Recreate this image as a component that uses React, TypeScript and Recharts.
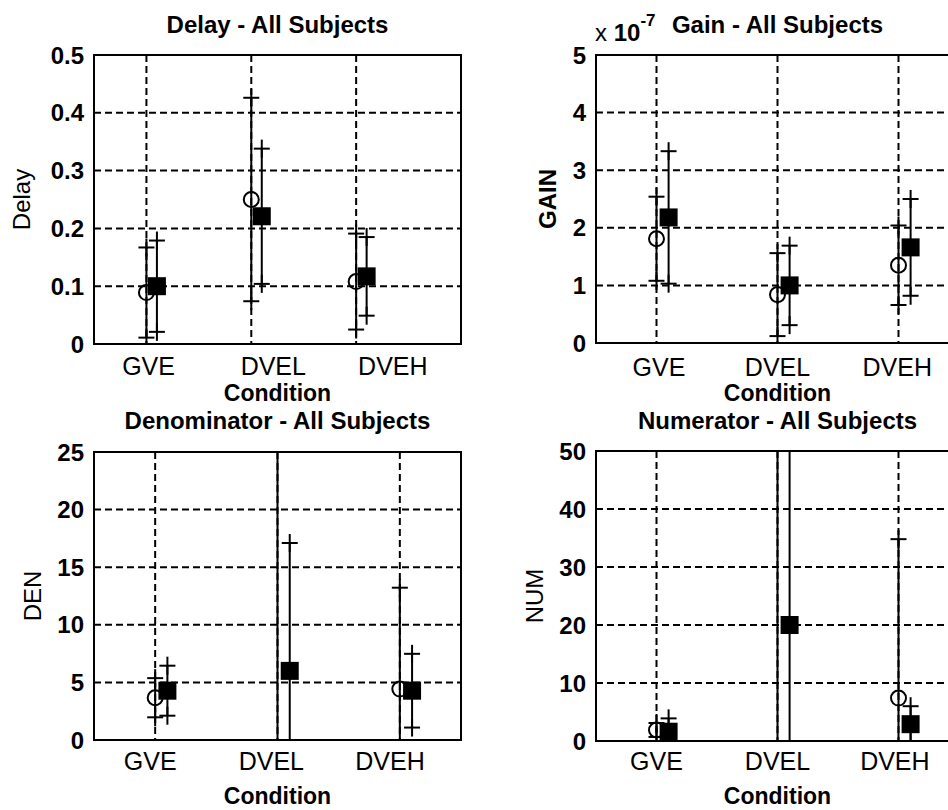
import React from 'react';
import { ScatterChart, Scatter, XAxis, YAxis, CartesianGrid, ReferenceArea, ReferenceLine, Label } from 'recharts';

const font = '"Liberation Sans", Arial, sans-serif';

const conditions = ['GVE', 'DVEL', 'DVEH'];
const circleX = [1, 2, 3];
const squareX = [1.1, 2.1, 3.1];

// Delay
const delayCircleMean = [0.089, 0.25, 0.108];
const delayCircleStd = [0.078, 0.176, 0.083];
const delaySquareMean = [0.1, 0.221, 0.117];
const delaySquareStd = [0.079, 0.117, 0.068];
const delayTicks = [0, 0.1, 0.2, 0.3, 0.4, 0.5];
const delayLabelX = [1.02, 2.21, 3.35];

// Gain (x 10^-7)
const gainCircleMean = [1.81, 0.84, 1.35];
const gainCircleStd = [0.73, 0.72, 0.69];
const gainSquareMean = [2.18, 1.0, 1.66];
const gainSquareStd = [1.15, 0.69, 0.84];
const gainTicks = [0, 1, 2, 3, 4, 5];
const gainLabelX = [1.02, 2.0, 2.99];

// Denominator
const denCircleMean = [3.67, 32, 4.42];
const denCircleStd = [1.7, 45, 8.8];
const denSquareMean = [4.28, 6.0, 4.28];
const denSquareStd = [2.17, 11.1, 3.2];
const denTicks = [0, 5, 10, 15, 20, 25];
const denLabelX = [0.96, 1.95, 2.92];

// Numerator
const numCircleMean = [1.9, 70, 7.4];
const numCircleStd = [1.2, 100, 27.4];
const numSquareMean = [1.6, 20, 2.9];
const numSquareStd = [2.3, 35, 3.1];
const numTicks = [0, 10, 20, 30, 40, 50];
const numLabelX = [1.0, 2.0, 2.97];

const points = (xs, mean) => xs.map((x, i) => ({ x, y: mean[i] }));
// one two-point series per error bar: mean - std up to mean + std
const errorBars = (xs, mean, std) =>
  xs.map((x, i) => [{ x, y: mean[i] - std[i] }, { x, y: mean[i] + std[i] }]);

const CircleMark = (p) => <circle cx={p.cx} cy={p.cy} r={7.5} fill="none" stroke="#000" strokeWidth={2} />;
const SquareMark = (p) => <rect x={p.cx - 9} y={p.cy - 9} width={18} height={18} fill="#000" />;
const CrossMark = (p) => (
  <g stroke="#000" strokeWidth={2}>
    <line x1={p.cx - 8} x2={p.cx + 8} y1={p.cy} y2={p.cy} />
    <line x1={p.cx} x2={p.cx} y1={p.cy - 9} y2={p.cy + 9} />
  </g>
);

const exponentLabel = ({ viewBox }) => (
  <text x={viewBox.x - 1} y={viewBox.y - 13} fontSize={24} fontFamily={font} fill="#000">
    x <tspan fontWeight="bold">10</tspan>
    <tspan dy={-15} fontSize={17} fontWeight="bold">-7</tspan>
  </text>
);

const yTitle = (text, baseX, bold) => ({ viewBox }) => {
  const x = viewBox.x + baseX;
  const cy = viewBox.y + viewBox.height / 2;
  return (
    <text
      x={x}
      y={cy}
      transform={`rotate(-90 ${x} ${cy})`}
      textAnchor="middle"
      fontSize={24}
      fontWeight={bold ? 'bold' : 'normal'}
      fontFamily={font}
      fill="#000"
    >
      {text}
    </text>
  );
};

const Panel = ({ left, top, width, height, margin, yAxisWidth, xAxisHeight, xDomain, yTicks, labelX,
  title, titleOffset, yLabel, yLabelX, yLabelBold, tickGap, conditionOffset, circle, square, exponent }) => {
  const yDomain = [yTicks[0], yTicks[yTicks.length - 1]];
  const bars = [
    ...errorBars(circleX, circle.mean, circle.std),
    ...errorBars(squareX, square.mean, square.std),
  ];
  return (
    <div style={{ position: 'absolute', left, top }}>
      <ScatterChart width={width} height={height} margin={{ ...margin, top: margin.top - 1 }}>
        <XAxis xAxisId="g" orientation="top" type="number" dataKey="x" domain={xDomain} ticks={circleX}
          allowDataOverflow height={1} tick={false} tickLine={false} axisLine={false}>
          <Label value={title} position="top" offset={titleOffset - 1} fontSize={24} fontWeight="bold" fontFamily={font} fill="#000" />
          {exponent && <Label content={exponentLabel} />}
        </XAxis>
        <XAxis xAxisId="l" type="number" dataKey="x" domain={xDomain} ticks={labelX} allowDataOverflow
          height={xAxisHeight} tickLine={false} axisLine={false} tickSize={6} tickMargin={tickGap}
          tickFormatter={(v, i) => conditions[i]} interval={0}
          tick={{ fill: '#000', fontSize: 25, fontFamily: font }}>
          <Label value="Condition" position="insideBottom" offset={conditionOffset} fontSize={23} fontWeight="bold" fontFamily={font} fill="#000" />
        </XAxis>
        <YAxis type="number" dataKey="y" domain={yDomain} ticks={yTicks} allowDataOverflow width={yAxisWidth}
          tickLine={false} axisLine={false} tickSize={6} tickMargin={4} interval={0}
          tick={{ fill: '#000', fontSize: 24, fontWeight: 'bold', fontFamily: font }}
          label={{ content: yTitle(yLabel, yLabelX, yLabelBold) }} />
        <CartesianGrid xAxisId="g" vertical={false} stroke="#000" strokeWidth={2} strokeDasharray="7 4" />
        {circleX.map((x) => (
          <ReferenceLine key={x} xAxisId="g" x={x} stroke="#000" strokeWidth={2} strokeDasharray="7 4" />
        ))}
        <ReferenceArea xAxisId="g" x1={xDomain[0]} x2={xDomain[1]} y1={yDomain[0]} y2={yDomain[1]}
          fill="none" stroke="#000" strokeWidth={2} ifOverflow="visible" />
        {bars.map((bar, i) => (
          <Scatter key={i} xAxisId="g" data={bar} shape={CrossMark} isAnimationActive={false}
            line={{ stroke: '#000', strokeWidth: 2 }} />
        ))}
        <Scatter xAxisId="g" data={points(circleX, circle.mean)} shape={CircleMark} isAnimationActive={false} />
        <Scatter xAxisId="g" data={points(squareX, square.mean)} shape={SquareMark} isAnimationActive={false} />
      </ScatterChart>
    </div>
  );
};

export default function App() {
  return (
    <div style={{ position: 'absolute', left: 0, top: 0, width: 948, height: 810, overflow: 'hidden', background: '#fff' }}>
      <Panel left={0} top={0} width={474} height={405} margin={{ top: 55, right: 13, bottom: 0, left: 0 }}
        yAxisWidth={94} xAxisHeight={61} xDomain={[0.5, 4]} yTicks={delayTicks} labelX={delayLabelX}
        title="Delay - All Subjects" titleOffset={22} yLabel="Delay" yLabelX={30} tickGap={7} conditionOffset={4}
        circle={{ mean: delayCircleMean, std: delayCircleStd }} square={{ mean: delaySquareMean, std: delaySquareStd }} />
      <Panel left={474} top={0} width={500} height={405} margin={{ top: 55, right: 15, bottom: 0, left: 0 }}
        yAxisWidth={122} xAxisHeight={62} xDomain={[0.5, 3.5]} yTicks={gainTicks} labelX={gainLabelX}
        title="Gain - All Subjects" titleOffset={22} yLabel="GAIN" yLabelX={81.6} yLabelBold tickGap={9} conditionOffset={4}
        exponent
        circle={{ mean: gainCircleMean, std: gainCircleStd }} square={{ mean: gainSquareMean, std: gainSquareStd }} />
      <Panel left={0} top={405} width={474} height={405} margin={{ top: 47, right: 13, bottom: 0, left: 0 }}
        yAxisWidth={94} xAxisHeight={70} xDomain={[0.5, 3.5]} yTicks={denTicks} labelX={denLabelX}
        title="Denominator - All Subjects" titleOffset={23} yLabel="DEN" yLabelX={40.6} tickGap={6} conditionOffset={6}
        circle={{ mean: denCircleMean, std: denCircleStd }} square={{ mean: denSquareMean, std: denSquareStd }} />
      <Panel left={474} top={405} width={500} height={405} margin={{ top: 46, right: 15, bottom: 0, left: 0 }}
        yAxisWidth={122} xAxisHeight={69} xDomain={[0.5, 3.5]} yTicks={numTicks} labelX={numLabelX}
        title="Numerator - All Subjects" titleOffset={22} yLabel="NUM" yLabelX={68.6} tickGap={5} conditionOffset={6}
        circle={{ mean: numCircleMean, std: numCircleStd }} square={{ mean: numSquareMean, std: numSquareStd }} />
    </div>
  );
}
